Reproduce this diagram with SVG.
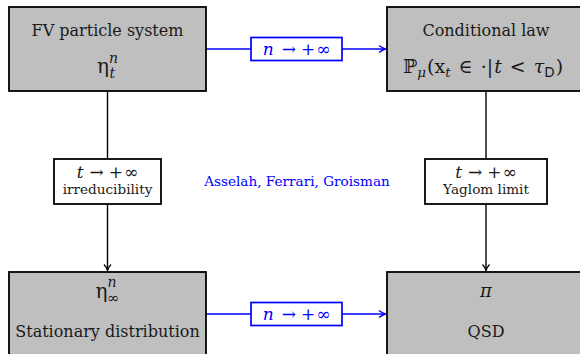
<svg xmlns="http://www.w3.org/2000/svg" width="580" height="354" viewBox="0 0 580 354">
<style>
.box{fill:#bfbfbf;stroke:#000;stroke-width:1.8}
.lbl{fill:#fff;stroke:#000;stroke-width:1.8}
.blbl{fill:#fff;stroke:#0000ff;stroke-width:1.7}
.t{font-family:"DejaVu Serif",serif;font-size:16px;fill:#1a1a1a;text-anchor:middle}
.s{font-family:"DejaVu Serif",serif;font-size:13.6px;fill:#1a1a1a;text-anchor:middle}
.mt{font-family:"DejaVu Serif",serif;font-size:17px;fill:#1a1a1a;text-anchor:middle}
.m{font-family:"DejaVu Serif",serif;font-style:italic}
.b{fill:#0000ff}
.k{stroke:#000;stroke-width:1.4;fill:none}
.bl{stroke:#0000ff;stroke-width:1.7;fill:none}
</style>
<defs>
<marker id="ak" markerWidth="10" markerHeight="10" refX="8" refY="5" orient="auto" markerUnits="userSpaceOnUse">
<path d="M2,1.5 Q5,4.2 8,5 Q5,5.8 2,8.5" fill="none" stroke="#000" stroke-width="1.2"/>
</marker>
<marker id="ab" markerWidth="10" markerHeight="10" refX="8" refY="5" orient="auto" markerUnits="userSpaceOnUse">
<path d="M1.5,1.5 Q5,4.2 8,5 Q5,5.8 1.5,8.5" fill="none" stroke="#0000ff" stroke-width="1.4"/>
</marker>
</defs>
<g id="connectors">
<path class="k" d="M107.5,91 V270.5" marker-end="url(#ak)"/>
<path class="k" d="M486,91 V270.5" marker-end="url(#ak)"/>
<path class="bl" d="M206,49 H385.5" marker-end="url(#ab)"/>
<path class="bl" d="M206,314 H385.5" marker-end="url(#ab)"/>
</g>
<g id="fv">
<rect class="box" x="9" y="7" width="197" height="84"/>
<text class="t" x="107.5" y="36">FV particle system</text>
<text class="t" x="107.5" y="73" style="font-size:20px">η<tspan class="m" font-size="14" dy="-10">n</tspan><tspan class="m" font-size="14" dx="-8.5" dy="15">t</tspan></text>
</g>
<g id="cond">
<rect class="box" x="387" y="7" width="198" height="84"/>
<text class="t" x="486" y="36">Conditional law</text>
<text class="t" x="483" y="73" style="font-size:19px">ℙ<tspan class="m" font-size="13.5" dy="4">μ</tspan><tspan dx="1" dy="-4">(x</tspan><tspan class="m" font-size="13.5" dy="4">t</tspan><tspan dx="8" dy="-4">∈</tspan><tspan dx="8">·|</tspan><tspan class="m" dx="1">t</tspan><tspan dx="8">&lt;</tspan><tspan class="m" dx="8">τ</tspan><tspan font-size="13.5" font-family="DejaVu Sans" dy="4">D</tspan><tspan dx="1" dy="-4">)</tspan></text>
</g>
<g id="stat">
<rect class="box" x="9" y="272" width="197" height="90"/>
<text class="t" x="107.5" y="298" style="font-size:20px">η<tspan class="m" font-size="14" dy="-11">n</tspan><tspan font-size="15" dx="-9.5" dy="16">∞</tspan></text>
<text class="t" x="107.5" y="337">Stationary distribution</text>
</g>
<g id="qsd">
<rect class="box" x="387" y="272" width="198" height="90"/>
<text class="t m" x="486" y="297" style="font-size:18px">π</text>
<text class="t" x="486" y="337">QSD</text>
</g>
<g id="label-irr">
<rect class="lbl" x="54" y="159" width="107" height="45"/>
<text class="mt" x="107.5" y="177.5"><tspan class="m">t</tspan><tspan dx="6">→</tspan><tspan dx="5">+</tspan><tspan dx="1">∞</tspan></text>
<text class="s" x="107.5" y="193.5">irreducibility</text>
</g>
<g id="label-yaglom">
<rect class="lbl" x="425" y="159" width="122" height="45"/>
<text class="mt" x="486" y="177.5"><tspan class="m">t</tspan><tspan dx="6">→</tspan><tspan dx="5">+</tspan><tspan dx="1">∞</tspan></text>
<text class="s" x="486" y="193.5">Yaglom limit</text>
</g>
<g id="label-top">
<rect class="blbl" x="251" y="37.5" width="91" height="23"/>
<text class="mt b" x="296.5" y="54.5"><tspan class="m">n</tspan><tspan dx="8">→</tspan><tspan dx="5">+</tspan><tspan dx="1">∞</tspan></text>
</g>
<g id="label-bottom">
<rect class="blbl" x="251" y="302.5" width="91" height="23"/>
<text class="mt b" x="296.5" y="319.5"><tspan class="m">n</tspan><tspan dx="8">→</tspan><tspan dx="5">+</tspan><tspan dx="1">∞</tspan></text>
</g>
<text class="s b" x="297" y="186">Asselah, Ferrari, Groisman</text>
</svg>
